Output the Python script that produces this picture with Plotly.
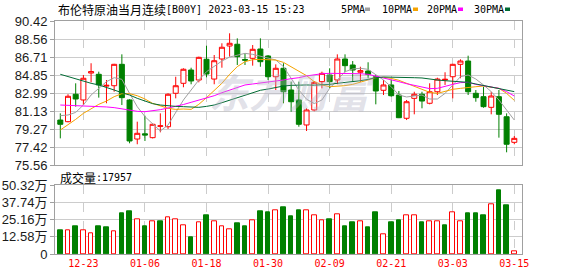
import plotly.graph_objects as go

# ---------------- data ----------------
dates = ["12-20", "12-21", "12-22", "12-23", "12-27", "12-28", "12-29", "12-30",
         "01-03", "01-04", "01-05", "01-06", "01-09", "01-10", "01-11", "01-12",
         "01-13", "01-16", "01-17", "01-18", "01-19", "01-20", "01-23", "01-24",
         "01-25", "01-26", "01-27", "01-30", "01-31", "02-01", "02-02", "02-03",
         "02-06", "02-07", "02-08", "02-09", "02-10", "02-13", "02-14", "02-15",
         "02-16", "02-17", "02-20", "02-21", "02-22", "02-23", "02-24", "02-27",
         "02-28", "03-01", "03-02", "03-03", "03-06", "03-07", "03-08", "03-09",
         "03-10", "03-13", "03-14", "03-15"]

opens = [80.20, 80.03, 82.86, 82.27, 85.05, 84.92, 83.70, 83.74, 85.95, 82.27,
         78.24, 78.78, 78.38, 79.55, 79.51, 82.96, 83.99, 85.36, 84.33, 86.47,
         84.43, 86.50, 87.84, 88.02, 86.45, 86.57, 87.53, 86.81, 84.67, 85.54,
         83.30, 82.27, 79.69, 81.24, 84.16, 84.85, 84.33, 86.50, 85.88, 85.13,
         85.26, 84.67, 83.27, 83.82, 82.78, 80.38, 82.44, 82.86, 81.93, 83.12,
         84.33, 84.67, 85.95, 86.29, 82.96, 82.61, 81.51, 82.61, 80.54, 77.90]
highs = [80.89, 82.86, 83.99, 84.85, 86.06, 85.19, 84.33, 86.00, 86.98, 82.35,
         80.03, 80.65, 79.85, 80.89, 82.96, 84.67, 85.54, 85.60, 86.74, 87.87,
         86.91, 88.12, 89.15, 88.63, 87.09, 87.94, 88.63, 86.91, 85.95, 86.06,
         84.16, 84.16, 81.41, 84.20, 85.19, 85.54, 86.98, 86.98, 86.29, 85.70,
         86.16, 84.85, 84.33, 84.33, 83.20, 82.27, 83.12, 83.12, 83.99, 84.57,
         85.13, 86.00, 86.47, 86.84, 83.30, 83.64, 83.12, 83.30, 80.89, 78.55]
lows = [78.31, 79.97, 81.58, 81.75, 84.09, 82.51, 81.93, 83.12, 81.75, 77.80,
        77.70, 78.04, 78.30, 78.93, 79.28, 82.44, 83.58, 83.89, 84.09, 84.61,
        83.89, 85.60, 86.74, 85.88, 85.88, 85.81, 85.70, 84.33, 83.30, 81.93,
        81.06, 79.51, 79.07, 81.10, 83.47, 83.47, 83.89, 85.13, 84.23, 84.16,
        84.51, 81.82, 82.78, 82.61, 80.40, 80.20, 80.79, 81.41, 81.82, 82.78,
        83.82, 82.44, 84.51, 82.78, 82.09, 81.47, 80.79, 78.38, 76.87, 77.70]
closes = [79.76, 82.65, 82.37, 84.51, 85.20, 83.82, 83.78, 85.95, 82.51, 78.04,
          78.83, 78.65, 79.76, 79.60, 82.86, 83.74, 85.44, 84.23, 86.67, 84.95,
          86.32, 87.71, 88.12, 86.74, 86.38, 87.50, 86.22, 84.67, 85.54, 83.12,
          82.09, 79.76, 81.24, 84.09, 85.02, 84.16, 86.50, 85.81, 85.36, 85.30,
          84.92, 83.20, 83.82, 82.71, 80.44, 82.09, 82.86, 82.16, 83.12, 84.43,
          84.40, 85.95, 86.29, 83.12, 82.51, 81.58, 82.68, 80.79, 77.70, 78.31]

ma5 = [80.65, 80.72, 80.99, 81.75, 82.78, 83.47, 84.16, 84.57, 84.40, 82.95,
       81.58, 80.55, 79.76, 79.07, 79.69, 80.99, 82.27, 83.30, 84.33, 85.19,
       85.78, 86.29, 86.70, 86.91, 87.08, 86.98, 86.81, 86.64, 86.40, 85.71,
       84.50, 83.30, 82.35, 81.90, 82.27, 83.47, 84.33, 85.19, 85.47, 85.54,
       85.43, 84.85, 84.33, 83.64, 82.78, 82.58, 82.71, 82.78, 82.37, 82.37,
       82.95, 83.82, 84.67, 84.85, 84.43, 83.82, 83.13, 82.27, 81.24, 80.20]
ma10 = [79.17, 79.69, 80.27, 80.89, 81.34, 81.82, 82.16, 82.61, 82.92, 82.92,
        82.71, 82.37, 81.92, 81.65, 81.41, 81.30, 81.34, 81.30, 81.82, 82.51,
        83.20, 83.99, 84.92, 85.71, 86.22, 86.43, 86.46, 86.46, 86.39, 86.15,
        85.71, 85.19, 84.78, 84.16, 83.82, 83.64, 83.68, 83.75, 83.88, 84.09,
        84.33, 84.57, 84.61, 84.50, 84.30, 83.99, 83.71, 83.40, 83.06, 82.95,
        83.20, 83.37, 83.47, 83.58, 83.64, 83.71, 83.61, 83.47, 82.95, 82.23]
ma20 = [81.75, 81.72, 81.68, 81.65, 81.65, 81.61, 81.55, 81.48, 81.34, 81.20,
        81.10, 81.06, 81.13, 81.27, 81.44, 81.61, 81.80, 82.03, 82.23, 82.51,
        82.71, 83.02, 83.27, 83.54, 83.82, 83.92, 84.02, 84.09, 84.19, 84.33,
        84.47, 84.57, 84.75, 84.90, 84.98, 85.02, 85.02, 85.05, 85.02, 84.98,
        84.92, 84.74, 84.57, 84.40, 84.16, 83.95, 83.78, 83.64, 83.44, 83.47,
        83.64, 83.88, 84.06, 84.09, 83.88, 83.75, 83.64, 83.47, 83.13, 82.68]
ma30 = [84.92, 84.68, 84.43, 84.16, 83.99, 83.82, 83.58, 83.30, 83.02, 82.78,
        82.44, 82.16, 81.89, 81.75, 81.65, 81.61, 81.58, 81.51, 81.51, 81.61,
        81.75, 81.99, 82.23, 82.54, 82.78, 82.99, 83.27, 83.40, 83.58, 83.71,
        83.78, 83.82, 83.82, 83.80, 83.82, 83.88, 83.99, 84.06, 84.16, 84.26,
        84.40, 84.57, 84.64, 84.64, 84.61, 84.61, 84.57, 84.54, 84.40, 84.33,
        84.26, 84.19, 84.16, 84.09, 83.92, 83.75, 83.61, 83.47, 83.30, 83.13]

# volume in 万 (10^4)
volume = [17.7, 17.0, 20.6, 17.7, 15.5, 20.6, 19.2, 16.3, 30.1, 31.6,
          25.5, 20.6, 24.1, 23.6, 27.0, 25.5, 21.1, 11.9, 23.3, 28.7,
          24.1, 20.4, 18.2, 22.8, 20.6, 24.8, 31.6, 30.8, 32.1, 34.5,
          27.9, 32.3, 32.3, 28.7, 25.0, 25.7, 29.4, 20.1, 23.1, 24.3,
          19.4, 30.4, 14.1, 23.1, 25.0, 28.7, 28.7, 23.1, 23.6, 23.6,
          20.9, 30.8, 23.6, 29.6, 29.6, 28.2, 36.7, 46.4, 35.5, 1.7957]
vol_up = [0, 1, 0, 1, 1, 0, 0, 1, 0, 0, 1, 0, 1, 0, 1, 1, 1, 0, 1, 0,
          1, 1, 1, 0, 0, 1, 0, 0, 1, 0, 0, 0, 1, 1, 1, 0, 1, 0, 0, 1,
          0, 0, 1, 0, 0, 1, 1, 0, 1, 1, 0, 1, 1, 0, 0, 0, 1, 0, 0, 1]

price_ticks = [75.56, 77.4175, 79.275, 81.1325, 82.99, 84.8475, 86.705, 88.5625, 90.42]
price_ticktext = ["75.56", "77.42", "79.27", "81.13", "82.99", "84.85", "86.71", "88.56", "90.42"]
vol_ticks = [0, 12.58, 25.16, 37.74, 50.32]
vol_ticktext = ["0", "12.58万", "25.16万", "37.74万", "50.32万"]
date_ticks = ["12-23", "01-06", "01-18", "01-30", "02-09", "02-21", "03-03", "03-15"]

title_cn = "布伦特原油当月连续"
title_rest = "[B00Y] 2023-03-15 15:23"
vol_label_cn = "成交量"
vol_last = ":17957"
ma_names = ["5PMA", "10PMA", "20PMA", "30PMA"]

# ---------------- styling / layout ----------------
W, H = 578, 276
L, R, T, B = 55, 522, 21, 254
RED = "#ff0000"
GREEN = "#008000"
MA_COLORS = ["#a0a0a0", "#f5a300", "#ff00ff", "#006b33"]
CJK = "Noto Sans CJK SC"
MONO = "DejaVu Sans Mono"
SANS = "Liberation Sans, Noto Sans CJK SC"

xpos = list(range(len(dates)))            # trading-day index positions
tick_pos = [dates.index(d) for d in date_ticks]


def px_x(x):
    return (x - L) / (R - L)


def px_y(y):
    return (B - y) / (B - T)


fig = go.Figure()

fig.add_trace(go.Candlestick(
    x=xpos, open=opens, high=highs, low=lows, close=closes,
    increasing=dict(line=dict(color=RED, width=1), fillcolor="#ffffff"),
    decreasing=dict(line=dict(color=GREEN, width=1), fillcolor=GREEN),
    whiskerwidth=0, showlegend=False, hoverinfo="skip",
    xaxis="x", yaxis="y"))

for ma, col in zip([ma5, ma10, ma20, ma30], MA_COLORS):
    fig.add_trace(go.Scatter(x=xpos, y=ma, mode="lines",
                             line=dict(color=col, width=1),
                             showlegend=False, hoverinfo="skip",
                             xaxis="x", yaxis="y"))

fig.add_trace(go.Bar(
    x=xpos, y=volume, width=0.6,
    marker=dict(color=["#ffffff" if u else GREEN for u in vol_up],
                line=dict(color=[RED if u else GREEN for u in vol_up], width=1)),
    showlegend=False, hoverinfo="skip", xaxis="x2", yaxis="y2"))

main_bottom = px_y(165)
vol_top = px_y(185.3)

axis_common = dict(showline=True, mirror=True, linecolor="#a0a0a0", linewidth=1,
                   zeroline=False, automargin=False)

fig.update_layout(
    width=W, height=H,
    margin=dict(l=L, r=W - R, t=T, b=H - B, pad=0, autoexpand=False),
    paper_bgcolor="#ffffff", plot_bgcolor="#ffffff",
    boxgap=0.35, boxgroupgap=0, bargap=0,
    xaxis=dict(domain=[0, 1], anchor="y", range=[-0.69, 60.0],
               tickvals=tick_pos, showticklabels=False, ticks="",
               showgrid=True, gridcolor="#cccccc", griddash="dash", gridwidth=1,
               rangeslider=dict(visible=False), **axis_common),
    yaxis=dict(domain=[main_bottom, 1], anchor="x", range=[75.56, 90.42],
               tickvals=price_ticks, ticktext=price_ticktext,
               ticks="outside", ticklen=4, tickcolor="#a0a0a0",
               tickfont=dict(family=SANS, size=13, color="#1a1a1a"),
               showgrid=True, gridcolor="#cccccc", gridwidth=1, **axis_common),
    xaxis2=dict(domain=[0, 1], anchor="y2", range=[-0.69, 60.0],
                tickvals=tick_pos, ticktext=date_ticks, ticks="",
                tickfont=dict(family=MONO, size=10, color=RED),
                showgrid=True, gridcolor="#cccccc", griddash="dash", gridwidth=1,
                **axis_common),
    yaxis2=dict(domain=[0, vol_top], anchor="x2", range=[0, 50.32],
                tickvals=vol_ticks, ticktext=vol_ticktext,
                ticks="outside", ticklen=4, tickcolor="#a0a0a0",
                tickfont=dict(family=SANS, size=13, color="#1a1a1a"),
                showgrid=True, gridcolor="#cccccc", gridwidth=1, **axis_common),
)

annotations = []


def label(text, x, y, family, size, color="#000000", anchor="left"):
    annotations.append(dict(xref="paper", yref="paper", x=px_x(x), y=px_y(y),
                            text=text, showarrow=False,
                            font=dict(family=family, size=size, color=color),
                            xanchor=anchor, yanchor="middle"))


# watermark
annotations.append(dict(xref="paper", yref="paper", x=px_x(292), y=px_y(91),
                        text="<i><b>东方财富</b></i>", showarrow=False,
                        font=dict(family=CJK, size=40, color="rgba(180,180,198,0.40)"),
                        xanchor="center", yanchor="middle"))
# title (CJK part + monospaced ASCII part)
label(title_cn, 56, 10, CJK, 12)
label(title_rest, 56 + 12 * len(title_cn), 10, MONO, 10)
# volume label
label(vol_label_cn, 58, 177, CJK, 12)
label(vol_last, 58 + 12 * len(vol_label_cn), 177, MONO, 10)

# MA legend
legend_x = [339, 380, 425, 472]
square_x = [365, 413, 458, 505]
shapes = []
for name, lx, sx, col in zip(ma_names, legend_x, square_x, MA_COLORS):
    label(name, lx, 10, MONO, 10)
    shapes.append(dict(type="rect", xref="paper", yref="paper",
                       x0=px_x(sx), x1=px_x(sx + 5), y0=px_y(11), y1=px_y(7.5),
                       fillcolor=col, line=dict(width=0)))

fig.update_layout(annotations=annotations, shapes=shapes)

fig.write_html("out.html")
